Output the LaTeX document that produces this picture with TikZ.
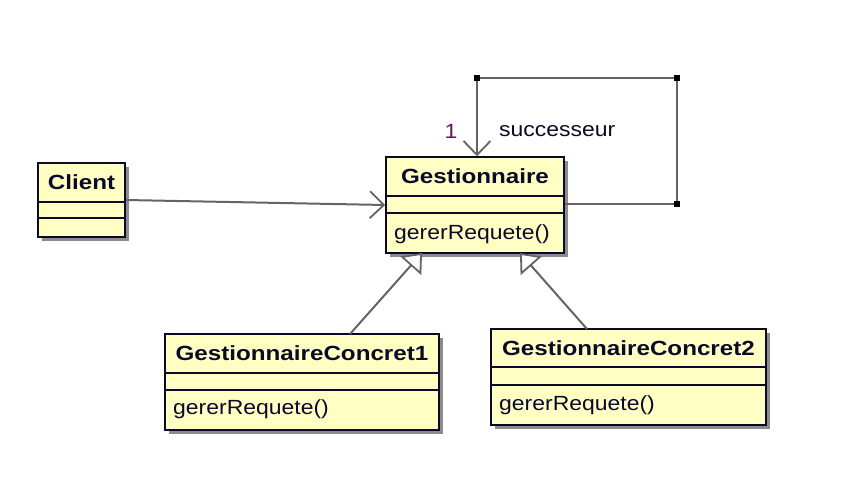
\documentclass[tikz,border=0pt]{standalone}
\usepackage{fontspec}
\setmainfont{Liberation Sans}[FakeStretch=1.12, BoldFeatures={FakeStretch=1.18}]
\usetikzlibrary{arrows.meta,shadows,calc}
\definecolor{classfill}{RGB}{255,255,196}
\definecolor{classline}{RGB}{10,10,40}
\definecolor{conn}{RGB}{100,100,100}
\definecolor{multcol}{RGB}{90,30,90}
\tikzset{
  classbox/.style={draw=classline, line width=1.6pt, fill=classfill, inner sep=0pt,
    drop shadow={shadow xshift=4pt, shadow yshift=-4pt, fill=black!45, opacity=1}},
  divider/.style={draw=classline, line width=1.4pt},
  cname/.style={font=\fontsize{20.5}{22}\selectfont\bfseries, text=classline, inner sep=0pt},
  cmeth/.style={font=\fontsize{20.5}{22}\selectfont, text=classline, inner sep=0pt, anchor=west},
  conline/.style={draw=conn, line width=2pt},
  assoc/.style={conline, -{Straight Barb[length=14pt,width=27pt,line width=1.8pt]}},
  general/.style={conline, -{Triangle[open,length=17pt,width=28pt,line width=1.8pt,fill=white]}},
  bendpt/.style={fill=black, draw=none, inner sep=0pt, minimum size=6pt, rectangle},
  lbl/.style={font=\fontsize{20.5}{22}\selectfont, inner sep=0pt},
}
\begin{document}
\begin{tikzpicture}[x=1pt,y=-1pt]
\useasboundingbox (0,0) rectangle (849,485);
% classes
\node[classbox, minimum width=87pt, minimum height=74pt] (client) at (81.5,200) {};
\node[classbox, minimum width=178pt, minimum height=96pt] (gest) at (475,205) {};
\node[classbox, minimum width=274pt, minimum height=96pt] (gc1) at (302,382) {};
\node[classbox, minimum width=275pt, minimum height=96pt] (gc2) at (628.5,377) {};
% dividers
\draw[divider] (38,202) -- (125,202) (38,218) -- (125,218);
\draw[divider] (386,196) -- (564,196) (386,213) -- (564,213);
\draw[divider] (165,373) -- (439,373) (165,390) -- (439,390);
\draw[divider] (491,367) -- (766,367) (491,385) -- (766,385);
% names
\node[cname] (tclient) at (81.5,182) {Client};
\node[cname] (tgest) at (475,176) {Gestionnaire};
\node[cname] (tgc1) at (302,353) {GestionnaireConcret1};
\node[cname] (tgc2) at (628.5,348) {GestionnaireConcret2};
% methods
\node[cmeth] (mgest) at (394,234) {gererRequete()};
\node[cmeth] (mgc1) at (173,409) {gererRequete()};
\node[cmeth] (mgc2) at (499,405) {gererRequete()};
% association client -> gestionnaire
\draw[assoc] (client.east) -- (gest.west);
% self association
\coordinate (b1) at (677,204);
\coordinate (b2) at (677,78);
\coordinate (b3) at (477,78);
\draw[assoc] (gest.east |- b1) -- (b1) -- (b2) -- (b3) -- (b3 |- gest.north);
\node[bendpt] (p1) at (b1) {};
\node[bendpt] (p2) at (b2) {};
\node[bendpt] (p3) at (b3) {};
\node[lbl, text=multcol] (mult) at (451,131) {1};
\node[lbl, text=classline, anchor=west] (role) at (499,131) {successeur};
% generalizations
\coordinate (g1s) at (350,334);
\coordinate (g1e) at (422,253);
\coordinate (g2s) at (587,329);
\coordinate (g2e) at (520,253);
\draw[general] (g1s) -- (g1e);
\draw[general] (g2s) -- (g2e);
\end{tikzpicture}
\end{document}
